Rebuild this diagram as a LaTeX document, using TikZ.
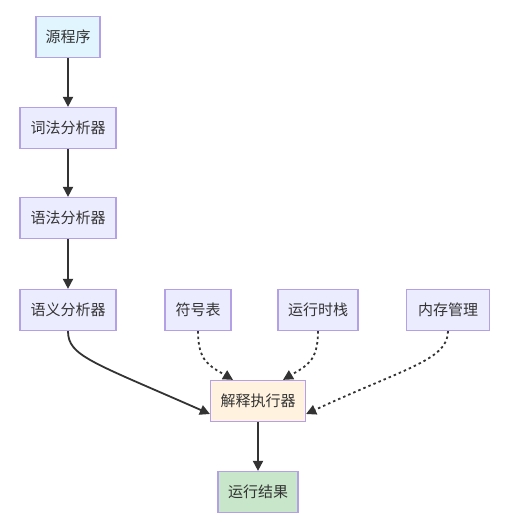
\documentclass[tikz,border=0pt]{standalone}
\usepackage{fontspec}
\setmainfont{Noto Sans CJK SC}
\usetikzlibrary{arrows.meta}
\definecolor{nodefill}{HTML}{ECECFF}
\definecolor{nodeborder}{HTML}{B4A0E6}
\definecolor{srcfill}{HTML}{E1F5FE}
\definecolor{execfill}{HTML}{FFF3E0}
\definecolor{resfill}{HTML}{C8E6C9}
\definecolor{edgecol}{HTML}{333333}
\begin{document}
\begin{tikzpicture}[x=1pt,y=-1pt,
  box/.style={draw=nodeborder,line width=1.2pt,fill=nodefill,minimum height=41pt,inner xsep=0pt,font=\fontsize{15}{17}\selectfont,text=edgecol},
  edge/.style={draw=edgecol,line width=1.8pt,-{Triangle[length=10pt,width=10pt]}},
  dedge/.style={edge,dash pattern=on 2.5pt off 3pt}]
\useasboundingbox (0,0) rectangle (509,527);
\node[box,fill=srcfill,minimum width=64pt] (src) at (68,37) {源程序};
\node[box,minimum width=96pt] (lex) at (68,128) {词法分析器};
\node[box,minimum width=96pt] (syn) at (68,218) {语法分析器};
\node[box,minimum width=96pt] (sem) at (68,310) {语义分析器};
\node[box,minimum width=66pt] (sym) at (198,310) {符号表};
\node[box,minimum width=80pt] (stk) at (318,310) {运行时栈};
\node[box,minimum width=83pt] (mem) at (448,310) {内存管理};
\node[box,fill=execfill,minimum width=95pt] (exe) at (258,401) {解释执行器};
\node[box,fill=resfill,minimum width=80pt] (res) at (258,492) {运行结果};
\draw[edge] (src) -- (lex);
\draw[edge] (lex) -- (syn);
\draw[edge] (syn) -- (sem);
\draw[edge] (sem.south) .. controls (68,356) and (92,362) .. ([yshift=-13pt]exe.west);
\draw[dedge] (sym.south) .. controls (198,362) and (210,366) .. ([xshift=-25pt]exe.north);
\draw[dedge] (stk.south) .. controls (318,362) and (306,366) .. ([xshift=25pt]exe.north);
\draw[dedge] (mem.south) .. controls (448,360) and (405,368) .. ([yshift=-13pt]exe.east);
\draw[edge] (exe) -- (res);
\end{tikzpicture}
\end{document}
